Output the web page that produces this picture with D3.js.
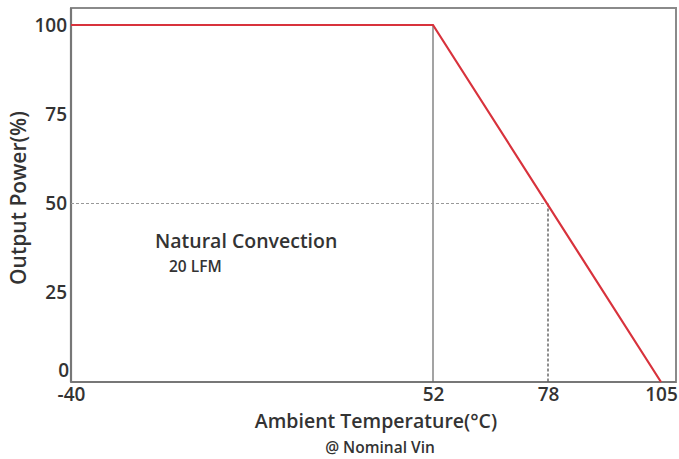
<!DOCTYPE html>
<html><head><meta charset="utf-8">
<script src="https://cdn.jsdelivr.net/npm/d3@7"></script>
<style>body{margin:0;background:#fff}svg{display:block}text{font-family:"Open Sans",sans-serif;fill:#333;font-weight:600}</style>
</head><body><svg id="c" width="679" height="459"></svg>
<script>
const tempTicks = [-40, 52, 78, 105];
const powerTicks = [0, 25, 50, 75, 100];
const deratingTemp = [-40, 52, 105];
const deratingPower = [100, 100, 0];
const markerTemp = [52, 78];
const markerPower = [100, 50];

const svg = d3.select("#c");
const L = 71, R = 676, T = 8, B = 382;
const x = d3.scaleLinear().domain([-40, 52, 78, 105]).range([71, 433, 548, 661]);
const y = d3.scaleLinear().domain([0, 100]).range([382, 25]);

// frame
svg.append("rect").attr("x", L).attr("y", T).attr("width", R - L).attr("height", B - T)
  .attr("fill", "none").attr("stroke", "#8a8a8a").attr("stroke-width", 2);
svg.append("line").attr("x1", L).attr("x2", L).attr("y1", T).attr("y2", B).attr("stroke", "#777").attr("stroke-width", 2.2);
svg.append("line").attr("x1", L).attr("x2", R).attr("y1", B).attr("y2", B).attr("stroke", "#777").attr("stroke-width", 2.2);

// marker lines
svg.append("line").attr("x1", x(markerTemp[0])).attr("x2", x(markerTemp[0]))
  .attr("y1", y(markerPower[0])).attr("y2", y(0)).attr("stroke", "#666").attr("stroke-width", 1.2);
svg.append("line").attr("x1", x(-40)).attr("x2", x(markerTemp[1]))
  .attr("y1", y(markerPower[1])).attr("y2", y(markerPower[1]))
  .attr("stroke", "#999").attr("stroke-width", 1.2).attr("stroke-dasharray", "3,2");
svg.append("line").attr("x1", x(markerTemp[1])).attr("x2", x(markerTemp[1]))
  .attr("y1", y(markerPower[1])).attr("y2", y(0))
  .attr("stroke", "#444").attr("stroke-width", 1.2).attr("stroke-dasharray", "3,2");

// derating curve
const pts = deratingTemp.map((t, i) => [t, deratingPower[i]]);
svg.append("path").datum(pts)
  .attr("d", d3.line().x(d => x(d[0])).y(d => y(d[1])))
  .attr("fill", "none").attr("stroke", "#d8323c").attr("stroke-width", 2.2);

// axes
const xa = svg.append("g").attr("transform", `translate(0,${B})`)
  .call(d3.axisBottom(x).tickValues(tempTicks).tickSize(0).tickPadding(5).tickFormat(d => String(d)));
xa.select(".domain").remove();
xa.selectAll("text").attr("font-size", 19).attr("font-family", "Open Sans").attr("fill", "#333");
const ya = svg.append("g").attr("transform", `translate(${L},0)`)
  .call(d3.axisLeft(y).tickValues(powerTicks).tickSize(0).tickPadding(4).tickFormat(d => String(d)));
ya.select(".domain").remove();
ya.selectAll("text").attr("font-size", 19).attr("font-family", "Open Sans").attr("fill", "#333");
ya.selectAll(".tick").filter(d => d === 0).select("text").attr("dy", "-0.3em").attr("x", -2);

// titles
svg.append("text").attr("x", 376).attr("y", 428).attr("text-anchor", "middle")
  .attr("font-size", 19.5).text("Ambient Temperature(°C)");
svg.append("text").attr("x", 380).attr("y", 453).attr("text-anchor", "middle")
  .attr("font-size", 15.5).text("@ Nominal Vin");
svg.append("text").attr("transform", "translate(26,198) rotate(-90)").attr("text-anchor", "middle")
  .attr("font-size", 21).text("Output Power(%)");
svg.append("text").attr("x", 155).attr("y", 248).attr("font-size", 19.5).text("Natural Convection");
svg.append("text").attr("x", 169).attr("y", 272).attr("font-size", 15.5).text("20 LFM");
</script></body></html>
